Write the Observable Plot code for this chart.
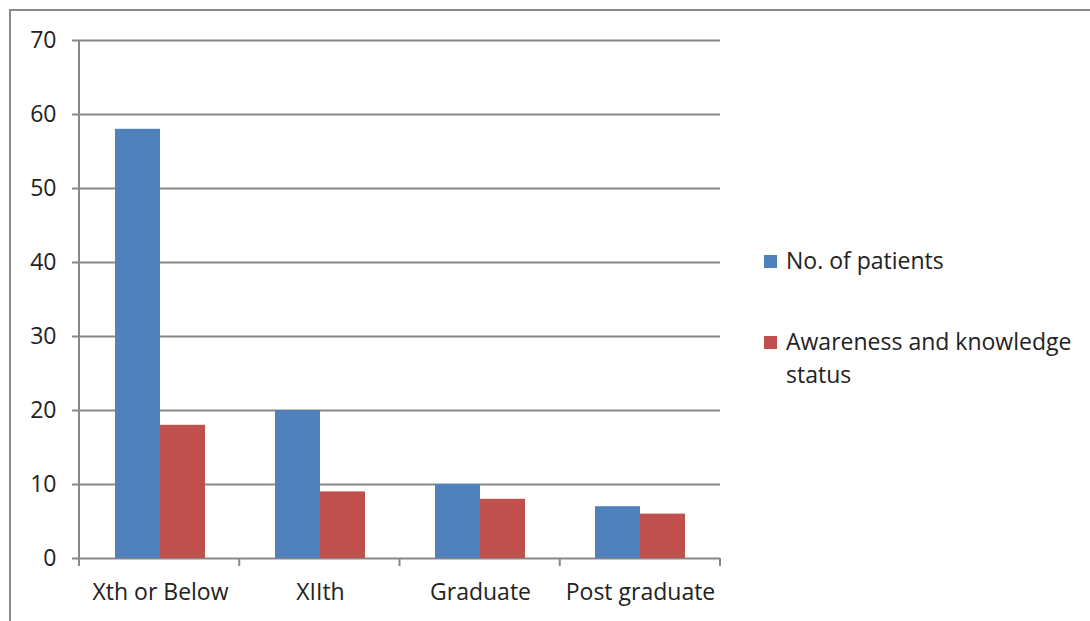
<!DOCTYPE html>
<html><head><meta charset="utf-8">
<script src="https://cdn.jsdelivr.net/npm/d3@7"></script>
<script src="https://cdn.jsdelivr.net/npm/@observablehq/plot@0.6"></script>
<style>
html,body{margin:0;padding:0;background:#fff;overflow:hidden;}
#wrap{position:relative;width:1090px;height:621px;}
#frame{position:absolute;left:9px;top:9px;width:2000px;height:2000px;border-left:2px solid #8a8a8a;border-top:2px solid #8a8a8a;pointer-events:none;}
</style></head>
<body>
<div id="wrap"><div id="frame"></div></div>
<script>
const categories = ["Xth or Below", "XIIth", "Graduate", "Post graduate"];
const series = ["No. of patients", "Awareness and knowledge status"];
const legendLines = [["No. of patients"], ["Awareness and knowledge", "status"]];
const patients = [58, 20, 10, 7];
const awareness = [18, 9, 8, 6];
const yTicks = [0, 10, 20, 30, 40, 50, 60, 70];
const colors = ["#4f81bd", "#c0504d"];

const FONT = "'Open Sans', sans-serif";
const FS = 23;
const GRID = "#878787";
const TEXT = "#222";

const data = categories.flatMap((c, i) => [
  {cat: c, s: series[0], v: patients[i]},
  {cat: c, s: series[1], v: awareness[i]}
]);

const chart = Plot.plot({
  width: 1090, height: 621,
  marginLeft: 79, marginRight: 370, marginTop: 40, marginBottom: 63,
  style: {fontFamily: FONT, fontSize: FS + "px", color: TEXT, background: "transparent", overflow: "visible"},
  fx: {domain: categories, padding: 0, label: null},
  x: {domain: series, paddingInner: 0, paddingOuter: 0.742, axis: null},
  y: {domain: [0, 70], label: null},
  color: {domain: series, range: colors},
  marks: [
    Plot.ruleY(yTicks, {stroke: GRID, strokeWidth: 2}),
    Plot.barY(data, {fx: "cat", x: "s", y: "v", fill: "s"}),
    Plot.axisY({ticks: yTicks, tickSize: 8, tickPadding: 16, stroke: GRID, strokeWidth: 2, strokeOpacity: 1, fill: TEXT, fontSize: FS, label: null}),
    Plot.axisFx({anchor: "bottom", tickSize: 0, tickPadding: 25, fill: TEXT, fontSize: FS, label: null})
  ]
});
document.getElementById("wrap").prepend(chart);

// axis lines and category boundary ticks
const svg = d3.select(chart);
const fx = chart.scale("fx");
const y = chart.scale("y");
const x0 = fx.range[0], x1 = fx.range[1];
const step = (x1 - x0) / categories.length;
const y0 = y.apply(0), yTop = y.apply(70);
const g = svg.append("g").attr("stroke", GRID).attr("stroke-width", 2);
g.append("line").attr("x1", x0).attr("x2", x0).attr("y1", yTop).attr("y2", y0);
for (let i = 0; i <= categories.length; i++) {
  const xx = x0 + i * step;
  g.append("line").attr("x1", xx).attr("x2", xx).attr("y1", y0).attr("y2", y0 + 8);
}

// legend
const lg = svg.append("g").attr("font-family", FONT).attr("font-size", FS).attr("fill", TEXT).attr("text-anchor", "start");
const legendBase = [269, 350];
series.forEach((s, i) => {
  lg.append("rect").attr("x", 764).attr("y", legendBase[i] - 14).attr("width", 13).attr("height", 13).attr("fill", colors[i]);
  legendLines[i].forEach((t, j) => {
    lg.append("text").attr("x", 786).attr("y", legendBase[i] + j * 33).text(t);
  });
});
</script>
</body></html>
